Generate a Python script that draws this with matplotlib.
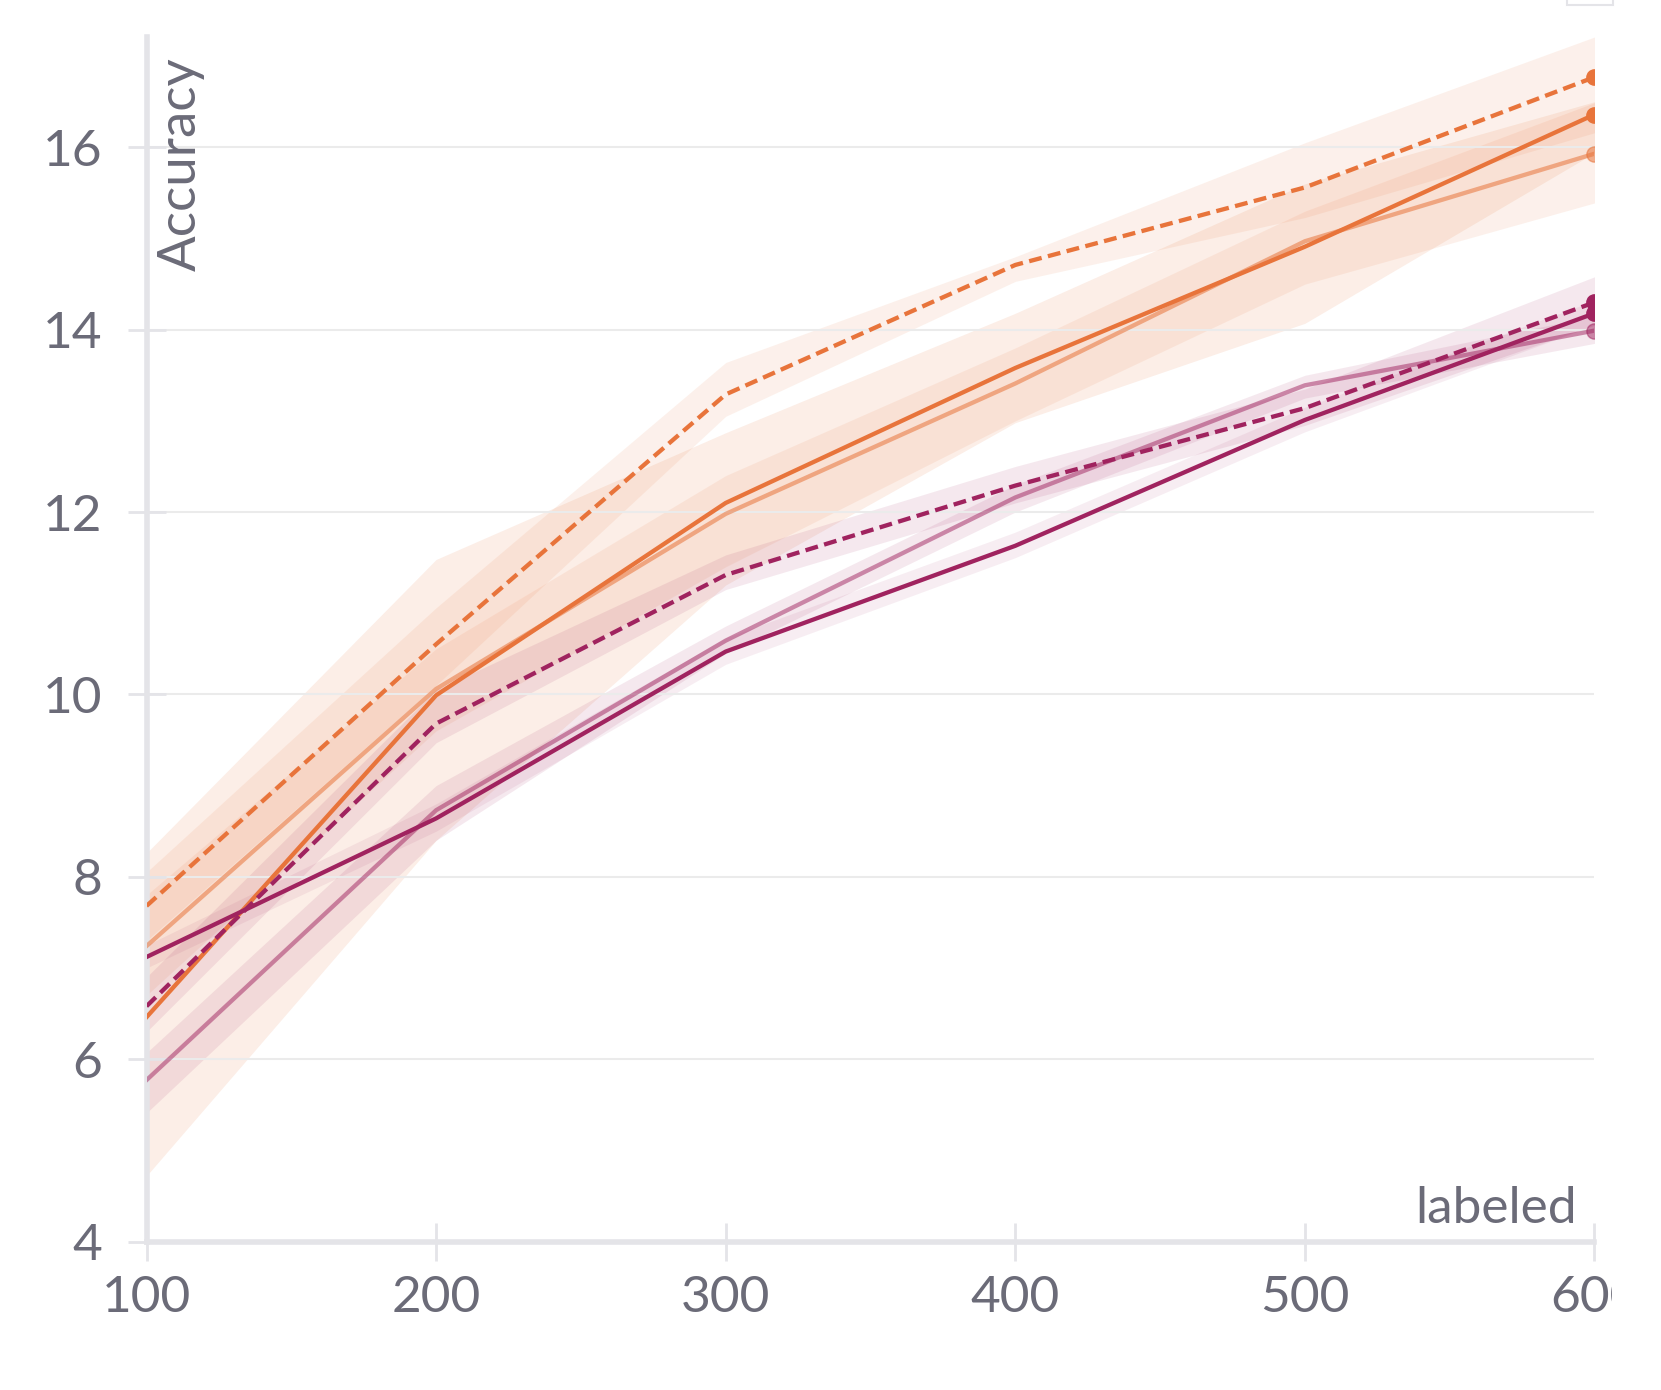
import matplotlib
matplotlib.use("Agg")
import matplotlib.pyplot as plt
from matplotlib.transforms import Bbox
from matplotlib.patches import Rectangle

# -----------------------------
# DATA
# -----------------------------

labeled = [100, 200, 300, 400, 500, 600]

orange_dash = [7.68, 10.55, 13.29, 14.71, 15.56, 16.77]
orange_dash_lo = [7.30, 10.10, 13.05, 14.53, 15.23, 16.16]
orange_dash_hi = [8.05, 10.95, 13.64, 14.80, 16.05, 17.21]

orange_solid = [6.46, 9.99, 12.10, 13.58, 14.91, 16.36]
orange_solid_lo = [4.72, 8.40, 11.20, 12.98, 14.07, 15.94]
orange_solid_hi = [8.26, 11.48, 12.87, 14.18, 15.60, 16.50]

orange_light = [7.24, 10.06, 11.98, 13.41, 14.97, 15.93]
orange_light_lo = [6.70, 9.60, 11.40, 13.00, 14.50, 15.39]
orange_light_hi = [7.80, 10.50, 12.40, 13.80, 15.30, 16.49]

magenta_dash = [6.58, 9.68, 11.31, 12.29, 13.14, 14.30]
magenta_dash_lo = [6.30, 9.47, 11.15, 12.10, 12.95, 14.05]
magenta_dash_hi = [6.90, 10.05, 11.53, 12.50, 13.35, 14.58]

magenta_solid = [7.12, 8.64, 10.47, 11.63, 13.01, 14.18]
magenta_solid_lo = [7.00, 8.50, 10.33, 11.50, 12.88, 14.05]
magenta_solid_hi = [7.25, 8.80, 10.62, 11.78, 13.15, 14.32]

magenta_light = [5.77, 8.73, 10.59, 12.16, 13.39, 13.99]
magenta_light_lo = [5.41, 8.40, 10.45, 12.00, 13.25, 13.85]
magenta_light_hi = [6.07, 9.00, 10.75, 12.30, 13.50, 14.15]

y_ticks = [4, 6, 8, 10, 12, 14, 16]
x_ticks = [100, 200, 300, 400, 500, 600]

# -----------------------------
# STYLE
# -----------------------------

ORANGE = "#e8743b"
MAGENTA = "#a0235f"
TEXT = "#6b6b78"
AXIS = "#e4e4e8"
GRID = "#ebebeb"

plt.rcParams["font.family"] = ["Lato", "DejaVu Sans"]

W, H = 1661, 1390
fig = plt.figure(figsize=(W / 100, H / 100), dpi=100)
ax = fig.add_axes([146.5 / W, 1 - 1241.5 / H, (1594.5 - 146.5) / W, (1241.5 - 37) / H])

series = [
    (orange_solid, orange_solid_lo, orange_solid_hi, ORANGE, "-", 1.0, 0.12),
    (orange_light, orange_light_lo, orange_light_hi, ORANGE, "-", 0.55, 0.10),
    (orange_dash, orange_dash_lo, orange_dash_hi, ORANGE, "--", 1.0, 0.10),
    (magenta_light, magenta_light_lo, magenta_light_hi, MAGENTA, "-", 0.5, 0.10),
    (magenta_dash, magenta_dash_lo, magenta_dash_hi, MAGENTA, "--", 1.0, 0.10),
    (magenta_solid, magenta_solid_lo, magenta_solid_hi, MAGENTA, "-", 1.0, 0.08),
]

# bands first, lines on top
for mean, lo, hi, col, ls, a, band_a in series:
    ax.fill_between(labeled, lo, hi, color=col, alpha=band_a, lw=0, zorder=1)

for mean, lo, hi, col, ls, a, band_a in series:
    line, = ax.plot(labeled, mean, color=col, alpha=a, lw=3.1, ls=ls, zorder=3)
    if ls == "--":
        line.set_dashes((3, 1.5))
    ax.plot(labeled[-1], mean[-1], "o", color=col, alpha=a, ms=11, zorder=4)

ax.set_xlim(100, 600)
ax.set_ylim(4, 17.21)
ax.set_xticks(x_ticks)
ax.set_yticks(y_ticks)

ax.grid(axis="y", color=GRID, lw=1.5, zorder=0)
ax.grid(axis="x", visible=False)

for side in ["top", "right"]:
    ax.spines[side].set_visible(False)
for side in ["left", "bottom"]:
    ax.spines[side].set_color(AXIS)
    ax.spines[side].set_linewidth(4)

ax.tick_params(axis="both", direction="inout", length=28, width=2, color=AXIS,
               labelcolor=TEXT, labelsize=37)
ax.tick_params(axis="y", pad=18)
ax.tick_params(axis="x", pad=10)

# last x label is cut by the frame in the original
clip = Bbox.from_extents(0, 0, 1612, H)
for lbl in ax.get_xticklabels():
    lbl.set_clip_box(clip)
    lbl.set_clip_on(True)

ax.text(0.008, 0.983, "Accuracy", transform=ax.transAxes, rotation=90,
        ha="left", va="top", fontsize=38, color=TEXT)
ax.text(0.988, 0.008, "labeled", transform=ax.transAxes,
        ha="right", va="bottom", fontsize=37, color=TEXT)

# small box at the top right corner
fig.patches.append(Rectangle((1567 / W, 1 - 5 / H), 46 / W, 8 / H, transform=fig.transFigure,
                             facecolor="white", edgecolor=AXIS, lw=1.5))

fig.savefig("out.png", dpi=100)
